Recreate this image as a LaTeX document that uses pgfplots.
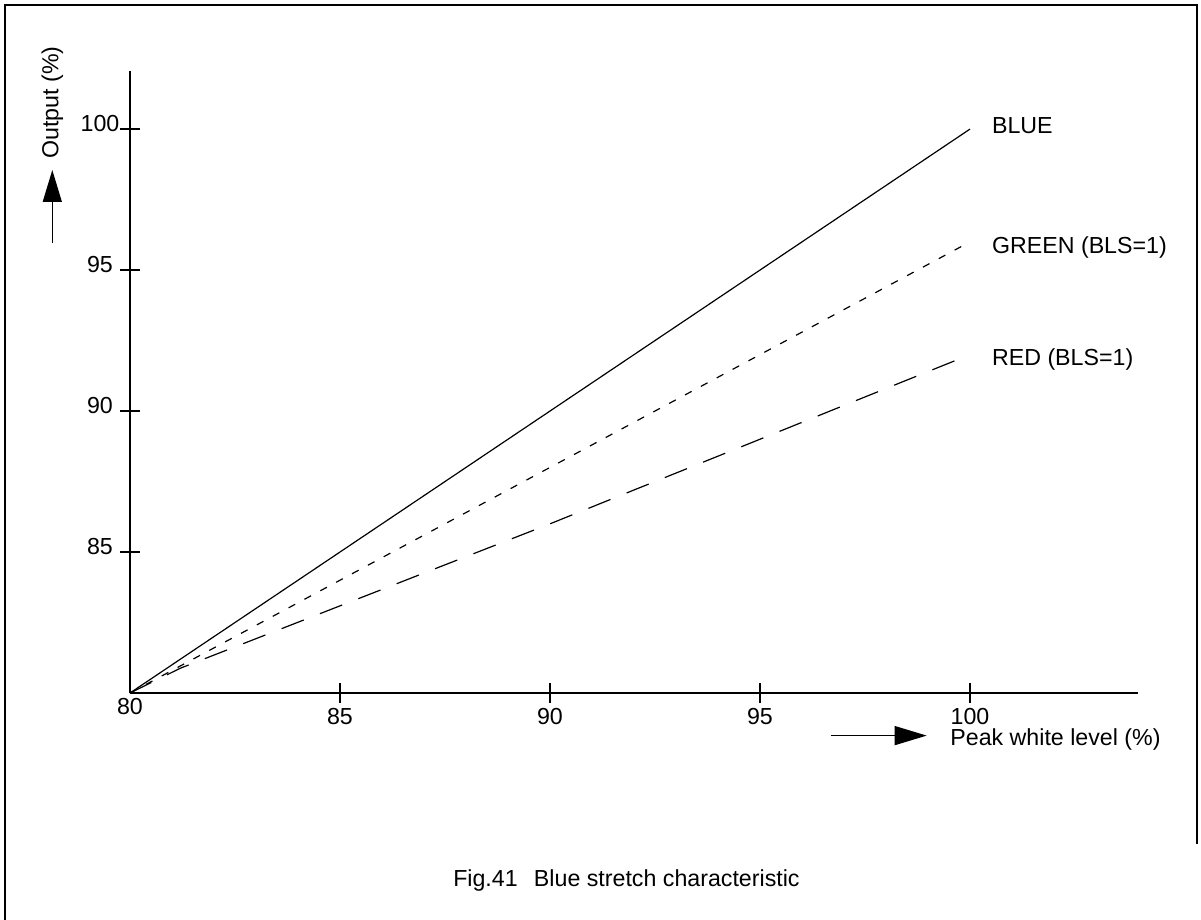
\documentclass[border=0pt]{standalone}
\usepackage{fontspec}
\setmainfont{Liberation Sans}
\usepackage{pgfplots}
\pgfplotsset{compat=1.18}
\usetikzlibrary{arrows.meta}
\begin{document}
\fontsize{11.6}{14}\selectfont
\begin{tikzpicture}[x=1pt,y=1pt]
\useasboundingbox (0,0) rectangle (600.5,-460);
\draw[line width=0.9pt] (2.5,-460) -- (2.5,-2.5) -- (598.5,-2.5) -- (598.5,-422);
\begin{axis}[
  at={(65pt,-346.5pt)}, anchor=south west,
  scale only axis, width=504pt, height=311pt,
  xmin=80, xmax=104, ymin=80, ymax=102.06,
  axis x line*=bottom, axis y line*=left,
  axis line style={line width=0.7pt, -},
  xtick={85,90,95,100}, ytick={85,90,95,100},
  extra x ticks={80}, extra x tick style={major tick length=0pt},
  tick align=center, major tick length=10pt,
  tick style={black, line width=0.6pt},
  /pgf/number format/assume math mode=true,
  ticklabel style={font=\fontsize{11.6}{14}\selectfont},
  xticklabel style={anchor=north, inner sep=0pt, yshift=-2.5pt},
  yticklabel style={anchor=center, inner sep=0pt, xshift=-10pt, yshift=3pt},
  clip=false,
]
\addplot[black, line width=0.6pt] coordinates {(80,80) (100,100)};
\addplot[black, line width=0.6pt, dash pattern=on 3.75pt off 5.25pt] coordinates {(80,80) (100,96)};
\addplot[black, line width=0.6pt, dash pattern=on 11.9pt off 8.7pt] coordinates {(80,80) (81.2,80.88) (90,86) (95,89) (100,92)};
\end{axis}
\node[anchor=base west, inner sep=0pt] at (495.85,-66.75) {BLUE};
\node[anchor=base west, inner sep=0pt] at (495.85,-127) {GREEN (BLS=1)};
\node[anchor=base west, inner sep=0pt] at (495.85,-182.5) {RED (BLS=1)};
\draw[line width=0.7pt, -{Triangle[length=16pt,width=9.5pt]}] (415.35,-367.8) -- (463.35,-367.8);
\node[anchor=base west, inner sep=0pt] at (475,-372.5) {Peak white level (\%)};
\draw[line width=0.7pt, -{Triangle[length=16pt,width=9.5pt]}] (26.15,-121.5) -- (26.15,-85);
\node[rotate=90, inner sep=0pt] at (26.25,-51.2) {Output (\%)};
\node[anchor=base east, inner sep=0pt] at (400,-443) {Fig.41\hspace{0.7em}Blue stretch characteristic};
\end{tikzpicture}
\end{document}
